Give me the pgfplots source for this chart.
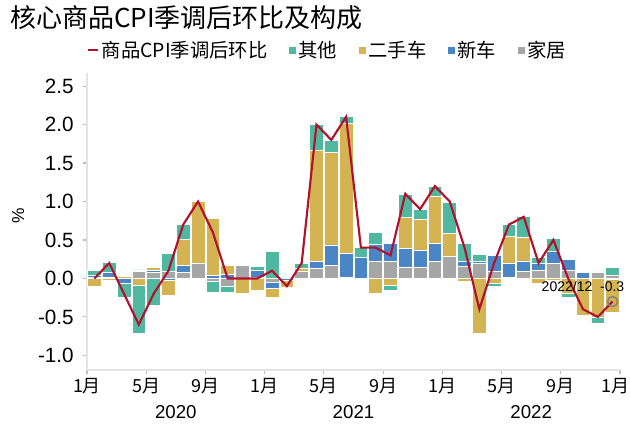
\documentclass[border=0pt]{standalone}
\usepackage{pgfplots}
\pgfplotsset{compat=1.18}
\usepackage{pgfplotstable}
\usepackage{fontspec}
\setmainfont{Liberation Sans}
\newfontfamily\cjk{Noto Sans CJK SC}
\definecolor{cteal}{RGB}{80,184,160}
\definecolor{cgold}{RGB}{212,180,82}
\definecolor{cblue}{RGB}{74,134,198}
\definecolor{cgray}{RGB}{166,166,166}
\definecolor{cred}{RGB}{176,18,45}
\definecolor{axgray}{RGB}{228,228,228}
\definecolor{tkgray}{RGB}{190,190,190}

% m: month index (0 = 2020-01), g: 家居, b: 新车, y: 二手车, t: 其他, c: 商品CPI季调后环比
\pgfplotstableread{
m g b y t c
0 0.01 0.03 -0.10 0.06 0.0
1 0.02 0.06 -0.02 0.13 0.2
2 0.00 -0.07 0.03 -0.17 -0.2
3 0.09 0.02 -0.09 -0.62 -0.6
4 0.08 0.02 0.04 -0.35 -0.2
5 0.09 -0.02 -0.20 0.23 0.1
6 0.08 0.09 0.34 0.19 0.7
7 0.19 0.00 0.81 -0.01 1.0
8 -0.04 0.04 0.74 -0.14 0.6
9 -0.10 0.05 0.12 -0.08 0.0
10 0.17 0.00 -0.19 0.01 0.0
11 0.01 0.10 -0.16 0.05 0.0
12 -0.05 -0.08 -0.12 0.35 0.1
13 0.00 -0.02 -0.09 0.01 -0.1
14 0.09 0.00 0.045 0.06 0.2
15 0.13 0.09 1.45 0.33 2.0
16 0.165 0.27 1.20 0.165 1.8
17 0.02 0.30 1.70 0.08 2.1
18 0.00 0.27 0.00 0.13 0.4
19 0.22 0.22 -0.195 0.16 0.4
20 0.22 0.24 -0.087 -0.07 0.3
21 0.15 0.24 0.40 0.30 1.1
22 0.15 0.22 0.40 0.13 0.9
23 0.22 0.23 0.62 0.13 1.2
24 0.29 0.00 0.29 0.41 1.0
25 0.16 0.06 -0.035 0.24 0.4
26 0.195 0.03 -0.71 0.09 -0.4
27 0.087 0.215 -0.07 -0.03 0.2
28 0.02 0.18 0.35 0.15 0.7
29 0.087 0.14 0.31 0.27 0.8
30 0.11 0.087 -0.07 0.08 0.2
31 0.20 0.15 -0.02 0.165 0.5
32 0.11 0.14 -0.195 -0.05 0.0
33 0.00 0.075 -0.476 0.00 -0.4
34 0.074 0.00 -0.50 -0.08 -0.5
35 0.04 -0.01 -0.43 0.10 -0.3
}\data

\pgfplotsset{
  base/.style={
    width=399.75pt, height=222.75pt, scale only axis,
    at={(65.25pt,42pt)}, anchor=south west,
    xmin=-0.5, xmax=35.5, ymin=-1.19, ymax=2.67,
    clip=false,
  },
  bars/.style={
    base, ybar stacked, bar width=0.93,
  },
  seg/.style={fill=#1, draw=white, line width=0.6pt},
}

\begin{document}
\begin{tikzpicture}
\useasboundingbox (0,0) rectangle (472.5pt,319.5pt);

% negative parts + axes
\begin{axis}[bars,
  axis lines*=left,
  axis line style={axgray, line width=0.8pt},
  tick style={tkgray, line width=0.8pt},
  tick align=outside,
  major tick length=3pt,
  xtick={-0.5,3.5,...,35.5},
  xticklabels={1月,5月,9月,1月,5月,9月,1月,5月,9月,\kern-7pt1月},
  xticklabel style={font=\cjk\fontsize{13.5}{16}\selectfont, text=black},
  ytick={-1,-0.5,0,0.5,1,1.5,2,2.5},
  yticklabel style={font=\fontsize{15.5}{18}\selectfont, text=black, xshift=-3.5pt,
    /pgf/number format/fixed, /pgf/number format/precision=1,
    /pgf/number format/fixed zerofill},
  /pgf/number format/assume math mode=true,
  ylabel={\%},
  ylabel style={at={(axis description cs:-0.129,0.52)}, anchor=center, font=\fontsize{13}{15}\selectfont},
]
\addplot[seg=cgray] table[x=m, y expr={min(\thisrow{g},0)}] {\data};
\addplot[seg=cblue] table[x=m, y expr={min(\thisrow{b},0)}] {\data};
\addplot[seg=cgold] table[x=m, y expr={min(\thisrow{y},0)}] {\data};
\addplot[seg=cteal] table[x=m, y expr={min(\thisrow{t},0)}] {\data};
\node[font=\fontsize{14}{16}\selectfont] at (axis cs:5.5,-1.19) [yshift=-31.5pt] {2020};
\node[font=\fontsize{14}{16}\selectfont] at (axis cs:17.5,-1.19) [yshift=-31.5pt] {2021};
\node[font=\fontsize{14}{16}\selectfont] at (axis cs:29.5,-1.19) [yshift=-31.5pt] {2022};
\end{axis}

% positive parts
\begin{axis}[bars, hide axis]
\addplot[seg=cgray] table[x=m, y expr={max(\thisrow{g},0)}] {\data};
\addplot[seg=cblue] table[x=m, y expr={max(\thisrow{b},0)}] {\data};
\addplot[seg=cgold] table[x=m, y expr={max(\thisrow{y},0)}] {\data};
\addplot[seg=cteal] table[x=m, y expr={max(\thisrow{t},0)}] {\data};
\end{axis}

% line, marker, legend
\begin{axis}[base, hide axis,
  legend columns=5,
  legend cell align=left,
  legend style={at={(axis description cs:0.452,1.077)}, anchor=center,
    draw=none, fill=none, font=\cjk\fontsize{14.5}{17}\selectfont,
    /tikz/every even column/.append style={column sep=14.5pt}},
]
\addplot[cred, line width=1.6pt, forget plot] table[x=m, y=c] {\data};
\addplot[only marks, mark=o, mark size=3.75pt, mark options={draw=gray, line width=1.1pt}, forget plot]
  coordinates {(35,-0.3)};
\node[font=\fontsize{10.5}{12}\selectfont] at (axis cs:33.0,-0.11) {2022/12\ \ -0.3};
\addlegendimage{legend image code/.code={\draw[cred, line width=1.6pt] (0pt,0pt) -- (7.5pt,0pt);}}
\addlegendentry{商品CPI季调后环比}
\addlegendimage{legend image code/.code={\fill[cteal] (0pt,-2.25pt) rectangle (4.5pt,2.25pt);}}
\addlegendentry{其他}
\addlegendimage{legend image code/.code={\fill[cgold] (0pt,-2.25pt) rectangle (4.5pt,2.25pt);}}
\addlegendentry{二手车}
\addlegendimage{legend image code/.code={\fill[cblue] (0pt,-2.25pt) rectangle (4.5pt,2.25pt);}}
\addlegendentry{新车}
\addlegendimage{legend image code/.code={\fill[cgray] (0pt,-2.25pt) rectangle (4.5pt,2.25pt);}}
\addlegendentry{家居}
\end{axis}

\node[anchor=west, font=\cjk\fontsize{19.5}{24}\selectfont] at (4pt,306pt) {核心商品CPI季调后环比及构成};
\end{tikzpicture}
\end{document}
